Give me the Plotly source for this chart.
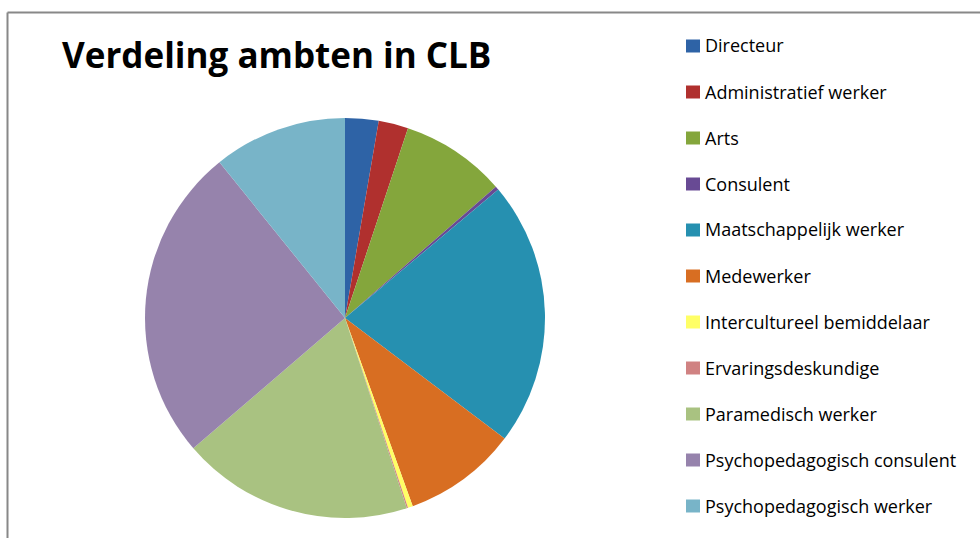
import plotly.graph_objects as go

W, H = 980, 538

categories = [
    "Directeur", "Administratief werker", "Arts", "Consulent",
    "Maatschappelijk werker", "Medewerker", "Intercultureel bemiddelaar",
    "Ervaringsdeskundige", "Paramedisch werker",
    "Psychopedagogisch consulent", "Psychopedagogisch werker",
]
shares = [2.7, 2.4, 8.5, 0.3, 21.4, 9.2, 0.4, 0.1, 18.7, 25.5, 10.8]
colors = [
    "#2E63A6", "#B0302E", "#84A63C", "#684A94",
    "#2690B0", "#D86E22", "#FFFF66",
    "#D08282", "#A9C281",
    "#9683AC", "#78B4C8",
]
title_text = "Verdeling ambten in CLB"

fig = go.Figure()
fig.add_trace(go.Pie(
    labels=categories,
    values=shares,
    sort=False,
    direction="clockwise",
    rotation=0,
    marker=dict(colors=colors, line=dict(width=0)),
    textinfo="none",
    hoverinfo="label+percent",
    showlegend=False,
    domain=dict(x=[145 / W, 545 / W], y=[1 - 518 / H, 1 - 118 / H]),
))

shapes = [
    dict(type="line", xref="paper", yref="paper",
         x0=7.5 / W, x1=1, y0=1 - 12.5 / H, y1=1 - 12.5 / H,
         line=dict(color="#888888", width=2)),
    dict(type="line", xref="paper", yref="paper",
         x0=7.5 / W, x1=7.5 / W, y0=0, y1=1 - 12.5 / H,
         line=dict(color="#888888", width=2)),
]
annotations = [
    dict(text="<b>" + title_text + "</b>", xref="paper", yref="paper",
         x=60 / W, y=1 - 55 / H, xanchor="left", yanchor="middle",
         showarrow=False, font=dict(family="Open Sans", size=35, color="#000000")),
]

# manual legend (Excel-style spacing)
for i, (cat, col) in enumerate(zip(categories, colors)):
    yc = 46 + 46 * i
    shapes.append(dict(type="rect", xref="paper", yref="paper",
                       x0=686 / W, x1=700 / W,
                       y0=1 - (yc + 6.5) / H, y1=1 - (yc - 6.5) / H,
                       fillcolor=col, line=dict(width=0)))
    annotations.append(dict(text=cat, xref="paper", yref="paper",
                            x=703 / W, y=1 - (yc - 0.5) / H, xanchor="left", yanchor="middle",
                            showarrow=False,
                            font=dict(family="Open Sans", size=18, color="#000000")))

fig.update_layout(
    width=W, height=H,
    margin=dict(l=0, r=0, t=0, b=0),
    paper_bgcolor="white",
    plot_bgcolor="white",
    shapes=shapes,
    annotations=annotations,
)

fig.write_html("out.html", config={"displayModeBar": False},
               post_script="document.body.style.margin='0px';")
